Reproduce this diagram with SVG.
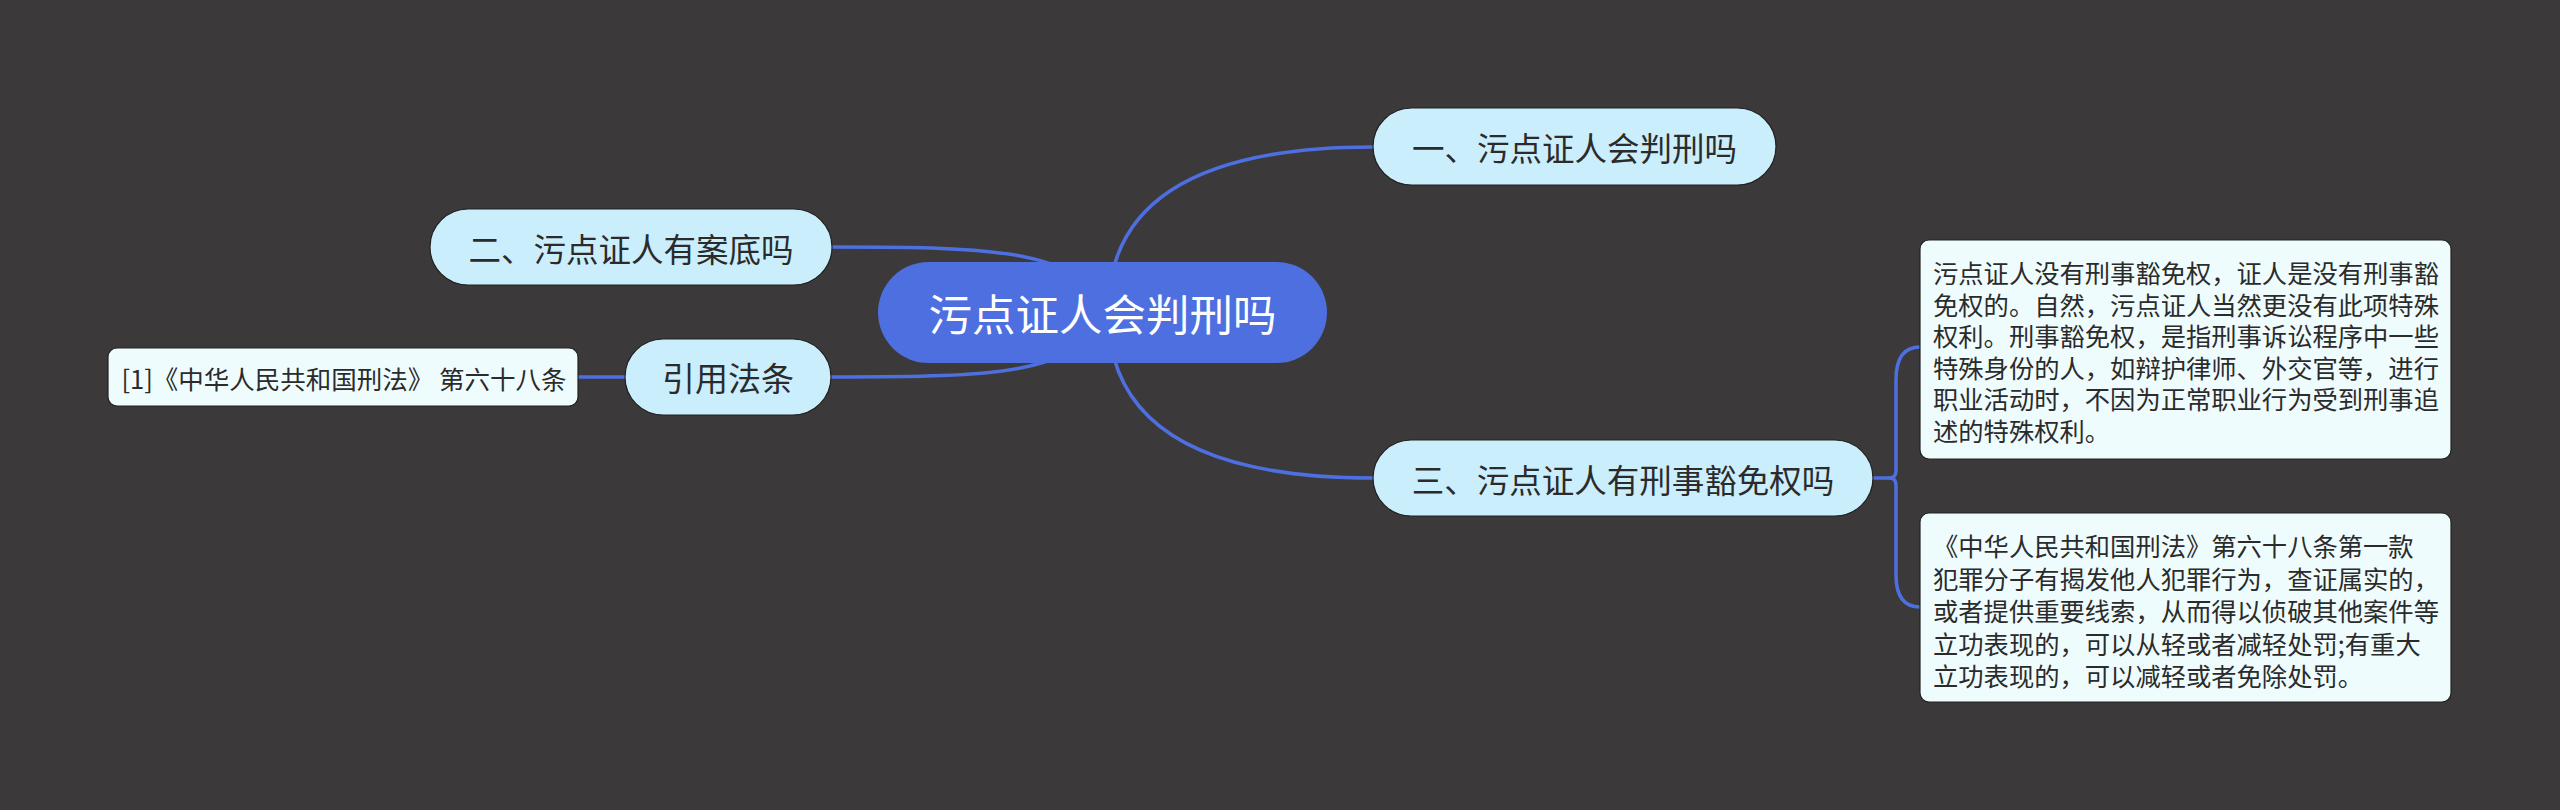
<svg xmlns="http://www.w3.org/2000/svg" width="2560" height="810" viewBox="0 0 2560 810">
<style>
.t{font-family:"Noto Sans CJK SC","Microsoft YaHei",sans-serif;fill:#2b2b2b;dominant-baseline:central}
.c{text-anchor:middle}
.node{fill:#cbeefd;stroke:#222;stroke-width:1.2}
.box{fill:#effcfd;stroke:#222;stroke-width:1.2}
.ln{fill:none;stroke:#4e6fe0;stroke-width:3.5;stroke-linecap:round}
</style>
<rect width="2560" height="810" fill="#3b393a"/>
<g id="connectors">
<path class="ln" d="M1108,312 Q1108,147 1373,147"/>
<path class="ln" d="M1108,312 Q1108,478 1373,478"/>
<path class="ln" d="M1102,312 C1080,250 1000,247 831,247"/>
<path class="ln" d="M1102,312 C1080,374 1000,377 831,377"/>
<path class="ln" d="M578,377 L625,377"/>
<path class="ln" d="M1873,478 L1890,478 Q1896,478 1896,470 L1896,380 Q1896,347 1920,347"/>
<path class="ln" d="M1890,478 Q1896,478 1896,486 L1896,575 Q1896,607 1920,607"/>
</g>
<g id="root">
<rect x="878" y="262" width="449" height="101" rx="50.5" fill="#4d6fe0"/>
<text class="t c" x="1102.5" y="312.5" font-size="43.5" style="fill:#ffffff">污点证人会判刑吗</text>
</g>
<g id="n1">
<rect class="node" x="1373" y="108" width="403" height="77" rx="38.5"/>
<text class="t c" x="1574.5" y="146.5" font-size="32.5">一、污点证人会判刑吗</text>
</g>
<g id="n2">
<rect class="node" x="430" y="209" width="402" height="76" rx="38"/>
<text class="t c" x="631" y="247" font-size="32.5">二、污点证人有案底吗</text>
</g>
<g id="n3">
<rect class="node" x="1373" y="440" width="500" height="76" rx="38"/>
<text class="t c" x="1623" y="478" font-size="32.5">三、污点证人有刑事豁免权吗</text>
</g>
<g id="n4">
<rect class="node" x="625" y="339" width="206" height="76" rx="38"/>
<text class="t c" x="728" y="377" font-size="33">引用法条</text>
</g>
<g id="cite">
<rect class="box" x="108" y="348" width="470" height="58" rx="9"/>
<text class="t c" x="344" y="377" font-size="25.5">[1]《中华人民共和国刑法》 第六十八条</text>
</g>
<g id="d1">
<rect class="box" x="1920" y="240" width="531" height="219" rx="9"/>
<text class="t" font-size="25.3">
<tspan x="1933" y="272">污点证人没有刑事豁免权，证人是没有刑事豁</tspan>
<tspan x="1933" y="303.6">免权的。自然，污点证人当然更没有此项特殊</tspan>
<tspan x="1933" y="335.2">权利。刑事豁免权，是指刑事诉讼程序中一些</tspan>
<tspan x="1933" y="366.8">特殊身份的人，如辩护律师、外交官等，进行</tspan>
<tspan x="1933" y="398.4">职业活动时，不因为正常职业行为受到刑事追</tspan>
<tspan x="1933" y="430">述的特殊权利。</tspan>
</text>
</g>
<g id="d2">
<rect class="box" x="1920" y="513" width="531" height="189" rx="9"/>
<text class="t" font-size="25.3">
<tspan x="1933" y="545">《中华人民共和国刑法》第六十八条第一款</tspan>
<tspan x="1933" y="577.5">犯罪分子有揭发他人犯罪行为，查证属实的，</tspan>
<tspan x="1933" y="610">或者提供重要线索，从而得以侦破其他案件等</tspan>
<tspan x="1933" y="642.5">立功表现的，可以从轻或者减轻处罚;有重大</tspan>
<tspan x="1933" y="675">立功表现的，可以减轻或者免除处罚。</tspan>
</text>
</g>
</svg>
